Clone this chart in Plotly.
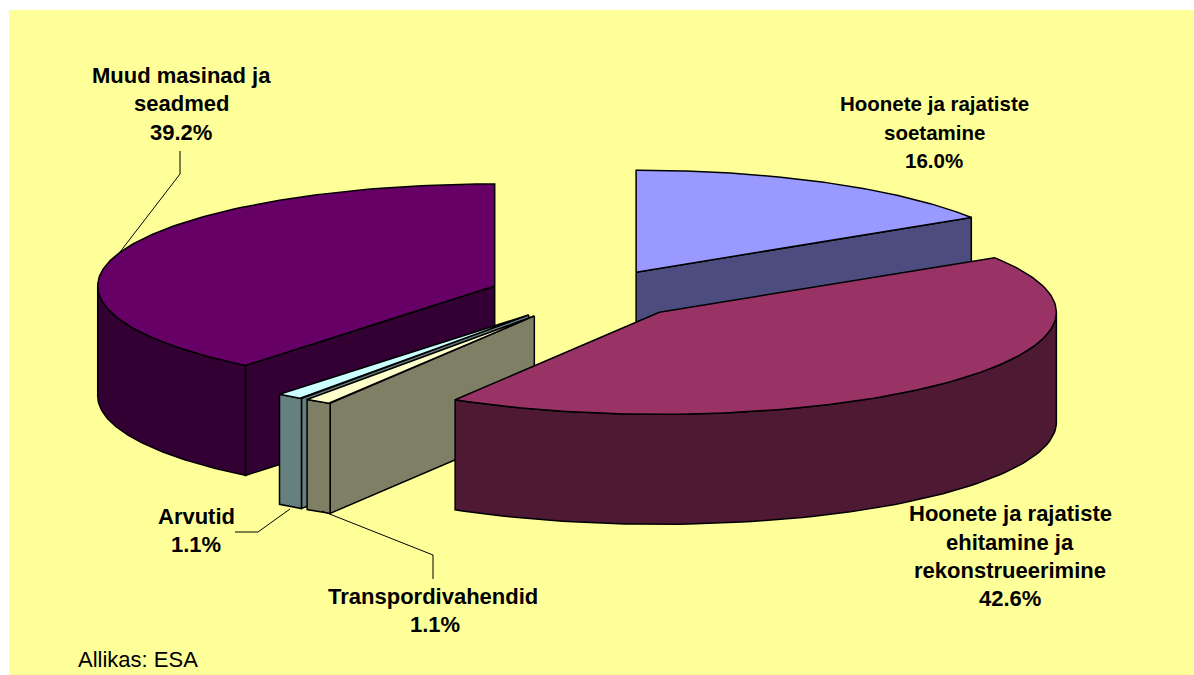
import numpy as np
import plotly.graph_objects as go

# Data
categories = ["Hoonete ja rajatiste soetamine",
              "Hoonete ja rajatiste ehitamine ja rekonstrueerimine",
              "Transpordivahendid", "Arvutid", "Muud masinad ja seadmed"]
shares = [16.0, 42.6, 1.1, 1.1, 39.2]
top_colors = ["#9999ff", "#993366", "#ffffcc", "#ccffff", "#660066"]
side_colors = ["#4c4c7f", "#4d1933", "#7f7f66", "#667f7f", "#330033"]
paint_order = [0, 4, 3, 2, 1]

# Label lines: text, centre x px, centre y px, font size
label_lines = [
    ("Muud masinad ja", 181, 75, 22), ("seadmed", 181, 103, 22), ("39.2%", 181, 132, 22),
    ("Hoonete ja rajatiste", 934, 103, 20.5), ("soetamine", 934, 132, 20.5), ("16.0%", 934, 160, 20.5),
    ("Hoonete ja rajatiste", 1010, 513, 22), ("ehitamine ja", 1010, 542, 22),
    ("rekonstrueerimine", 1010, 570, 22), ("42.6%", 1010, 598, 22),
    ("Arvutid", 196, 516, 22), ("1.1%", 196, 544, 22),
    ("Transpordivahendid", 433, 596, 22), ("1.1%", 435, 624, 22),
]
leaders = [
    ([180, 180, 120], [151, 174, 252]),
    ([235, 258, 290], [532, 532, 509]),
    ([322, 433, 433], [511, 555, 579]),
]
source_note = "Allikas: ESA"

# Projection: pie centre, radii, depth and explosion
CX, CY, RX, RY = 588.3, 294.5, 397.0, 102.0
DEPTH = 110.0 / RY
EXPLODE = 0.25
LEFT, TOP, W, H = 9, 10, 1194, 675


def X(px):
    return (np.asarray(px, float) - CX) / RX


def Y(py):
    return (CY - np.asarray(py, float)) / RY


def arc(a0, a1, n=80):
    return np.radians(np.linspace(a0, a1, n))


fig = go.Figure()


def face(xs, ys, color):
    fig.add_trace(go.Scatter(x=np.r_[xs, xs[0]], y=np.r_[ys, ys[0]], mode="lines",
                             fill="toself", fillcolor=color,
                             line=dict(color="#000000", width=1.5),
                             hoverinfo="skip", showlegend=False))


edges = np.r_[0, np.cumsum(shares)] / sum(shares) * 360
for i in paint_order:
    a0, a1 = edges[i], edges[i + 1]
    mid = np.radians((a0 + a1) / 2)
    ox, oy = EXPLODE * np.sin(mid), EXPLODE * np.cos(mid)
    # radial faces turned towards the viewer
    for a, sign in ((a0, -1), (a1, 1)):
        r = np.radians(a)
        if np.cos(r + sign * np.pi / 2) < -1e-6:
            px_, py_ = ox + np.sin(r), oy + np.cos(r)
            face(np.array([ox, px_, px_, ox]),
                 np.array([oy, py_, py_ - DEPTH, oy - DEPTH]), side_colors[i])
    # outer wall, front half only
    f0, f1 = max(a0, 90), min(a1, 270)
    if f1 > f0:
        t = arc(f0, f1)
        xs, ys = ox + np.sin(t), oy + np.cos(t)
        face(np.r_[xs, xs[::-1]], np.r_[ys, ys[::-1] - DEPTH], side_colors[i])
    # top
    t = arc(a0, a1, 160)
    face(np.r_[ox, ox + np.sin(t)], np.r_[oy, oy + np.cos(t)], top_colors[i])

for lx, ly in leaders:
    fig.add_trace(go.Scatter(x=X(lx), y=Y(ly), mode="lines",
                             line=dict(color="#000000", width=1),
                             hoverinfo="skip", showlegend=False))

annotations = [dict(x=float(X(px)), y=float(Y(py)), text=f"<b>{txt}</b>", showarrow=False,
                    xanchor="center", yanchor="middle",
                    font=dict(family="Liberation Sans", size=size, color="#000000"))
               for txt, px, py, size in label_lines]
annotations.append(dict(x=float(X(76)), y=float(Y(659)), text=source_note, showarrow=False,
                        xanchor="left", yanchor="middle",
                        font=dict(family="Liberation Sans", size=22, color="#000000")))

fig.update_layout(
    width=W, height=H, autosize=False,
    margin=dict(l=LEFT, r=0, t=TOP, b=0, pad=0),
    paper_bgcolor="#ffffff", plot_bgcolor="#ffff99",
    showlegend=False, annotations=annotations,
    xaxis=dict(range=[float(X(LEFT)), float(X(W))], visible=False, fixedrange=True),
    yaxis=dict(range=[float(Y(H)), float(Y(TOP))], visible=False, fixedrange=True),
)
fig.write_html("out.html", config=dict(displayModeBar=False),
               post_script="document.body.style.margin='0';document.body.style.overflow='hidden';")
